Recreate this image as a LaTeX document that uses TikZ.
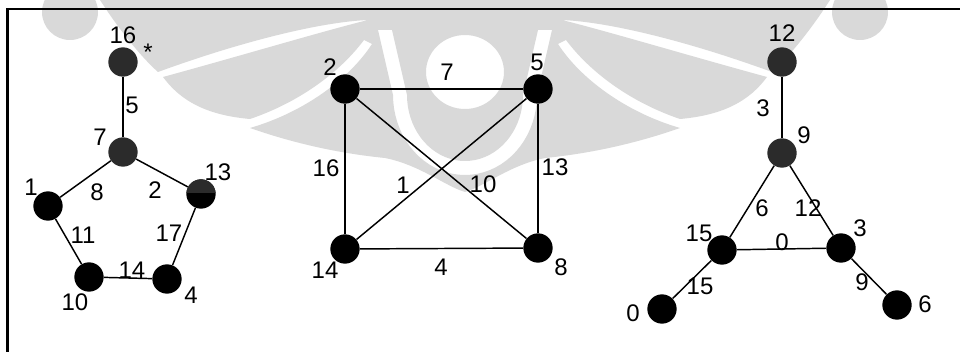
\documentclass[tikz,border=0pt]{standalone}
\usepackage{fontspec}
\setmainfont{Liberation Sans}
\definecolor{wmgray}{gray}{0.85}
\definecolor{dgray}{gray}{0.17}
\tikzset{
  vtx/.style={circle, fill=black, inner sep=0pt, minimum size=22pt},
  dvtx/.style={vtx, fill=dgray},
  lab/.style={inner sep=0pt, font=\fontsize{18}{21}\selectfont},
  edge/.style={line width=1.1pt, black},
  frame/.style={line width=1.9pt, black},
  wm/.style={fill=wmgray, even odd rule}
}
\begin{document}
\begin{tikzpicture}[x=0.75pt, y=-0.75pt]
\useasboundingbox (0,0) rectangle (960,352);
\fill[white] (0,0) rectangle (960,352);

% ---------- watermark ----------
\fill[wm]
  (100,0) .. controls (118,28) and (140,56) .. (158,72)
  .. controls (240,42) and (320,22) .. (368,20)
  .. controls (320,32) and (240,56) .. (163,77)
  .. controls (180,100) and (205,115) .. (250,119)
  .. controls (300,102) and (340,72) .. (364,40)
  -- (372,44)
  .. controls (350,78) and (305,112) .. (250,128)
  .. controls (290,142) and (335,153) .. (385,158)
  .. controls (420,165) and (445,186) .. (465,192)
  .. controls (485,186) and (510,165) .. (545,158)
  .. controls (595,153) and (640,142) .. (680,128)
  .. controls (625,112) and (580,78) .. (558,44)
  -- (566,40)
  .. controls (590,72) and (630,102) .. (680,119)
  .. controls (725,115) and (750,100) .. (767,77)
  .. controls (690,56) and (610,32) .. (562,20)
  .. controls (610,22) and (690,42) .. (772,72)
  .. controls (790,56) and (812,28) .. (830,0)
  -- cycle
  (465,72) ellipse [x radius=39, y radius=37]
  (378,30) -- plot[domain=180:0, samples=37] ({465+72*cos(\x)},{95+80*sin(\x)})
  -- (552,30) -- (538,30)
  -- plot[domain=0:180, samples=37] ({465+58*cos(\x)},{95+66*sin(\x)})
  -- (392,30) -- cycle
  (70,12) circle [radius=28]
  (860,12) circle [radius=28];

% frame
\draw[frame] (7.3,352) -- (7.3,9) -- (960,9);

% ---------- left graph ----------
\node[dvtx] (a16) at (123,62) {};
\node[dvtx] (a7)  at (123,152) {};
\node[vtx] (a1)  at (48,206) {};
\node[vtx] (a13) at (201,194) {};
\node[vtx] (a10) at (89,277) {};
\node[vtx] (a4)  at (167,279) {};
\begin{scope}
  \clip (180,170) rectangle (222,193);
  \fill[dgray] (a13.center) circle [radius=14.67];
\end{scope}
\draw[edge] (a16) -- (a7);
\draw[edge] (a7) -- (a1);
\draw[edge] (a7) -- (a13);
\draw[edge] (a1) -- (a10);
\draw[edge] (a13) -- (a4);
\draw[edge] (a10) -- (a4);
\node[lab] (la16) at (123,35) {16};
\node[lab] (last) at (148,52) {*};
\node[lab] (la7)  at (100,137) {7};
\node[lab] (la1)  at (31,187) {1};
\node[lab] (la13) at (218,172) {13};
\node[lab] (la10) at (75,302) {10};
\node[lab] (la4)  at (191,295) {4};
\node[lab] (ea5)  at (132,105) {5};
\node[lab] (ea8)  at (97,192) {8};
\node[lab] (ea2)  at (155,190) {2};
\node[lab] (ea11) at (83,235) {11};
\node[lab] (ea17) at (169,233) {17};
\node[lab] (ea14) at (132,270) {14};

% ---------- middle graph ----------
\node[vtx] (b2)  at (345,89) {};
\node[vtx] (b5)  at (538,89) {};
\node[vtx] (b14) at (345,249) {};
\node[vtx] (b8)  at (538,248) {};
\draw[edge] (b2) -- (b5);
\draw[edge] (b2) -- (b14);
\draw[edge] (b5) -- (b8);
\draw[edge] (b14) -- (b8);
\draw[edge] (b14) -- (b5);
\draw[edge] (b2) -- (b8);
\node[lab] (lb2)  at (330,67) {2};
\node[lab] (lb5)  at (537,62) {5};
\node[lab] (lb14) at (325,270) {14};
\node[lab] (lb8)  at (561,267) {8};
\node[lab] (eb7)  at (447,72) {7};
\node[lab] (eb16) at (326,168) {16};
\node[lab] (eb13) at (555,167) {13};
\node[lab] (eb1)  at (403,185) {1};
\node[lab] (eb10) at (483,184) {10};
\node[lab] (eb4)  at (441,267) {4};

% ---------- right graph ----------
\node[dvtx] (c12) at (782,62) {};
\node[dvtx] (c9)  at (782,153) {};
\node[vtx] (c15) at (722,250) {};
\node[vtx] (c3)  at (841,248) {};
\node[vtx] (c0)  at (662,309) {};
\node[vtx] (c6)  at (897,305) {};
\draw[edge] (c12) -- (c9);
\draw[edge] (c9) -- (c15);
\draw[edge] (c9) -- (c3);
\draw[edge] (c15) -- (c3);
\draw[edge] (c15) -- (c0);
\draw[edge] (c3) -- (c6);
\node[lab] (lc12) at (782,33) {12};
\node[lab] (lc9)  at (804,135) {9};
\node[lab] (lc15) at (699,233) {15};
\node[lab] (lc3)  at (860,228) {3};
\node[lab] (lc0)  at (633,313) {0};
\node[lab] (lc6)  at (925,304) {6};
\node[lab] (ec3)  at (763,108) {3};
\node[lab] (ec6)  at (762,208) {6};
\node[lab] (ec12) at (808,208) {12};
\node[lab] (ec0)  at (782,242) {0};
\node[lab] (ec15) at (700,286) {15};
\node[lab] (ec9)  at (862,282) {9};
\end{tikzpicture}
\end{document}
